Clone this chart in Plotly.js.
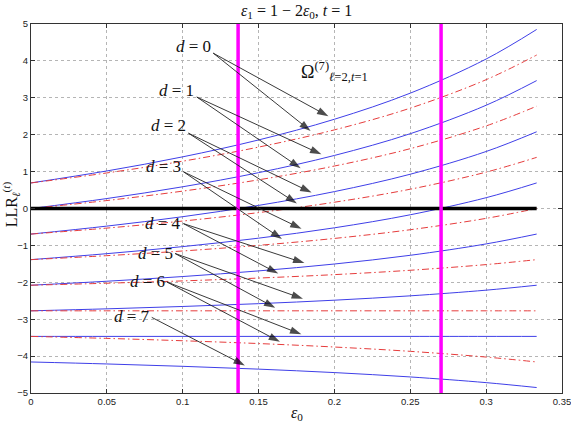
<!DOCTYPE html>
<html><head><meta charset="utf-8">
<script src="https://cdn.plot.ly/plotly-3.0.1.min.js"></script>
<style>html,body{margin:0;padding:0;background:#fff}#chart{width:571px;height:426px}</style>
</head><body><div id="chart"></div>
<script>
// ---- data ----
const eps0 = [0, 0.05, 0.1, 0.15, 0.2, 0.25, 0.3, 0.3333];
// blue solid curves (d = 0..7)
const blueD0 = [0.693, 1.018, 1.400, 1.858, 2.419, 3.126, 4.051, 4.852];
const blueD1 = [0.000, 0.270, 0.589, 0.971, 1.438, 2.027, 2.798, 3.466];
const blueD2 = [-0.693, -0.477, -0.222, 0.084, 0.458, 0.929, 1.545, 2.079];
const blueD3 = [-1.386, -1.224, -1.033, -0.804, -0.523, -0.170, 0.293, 0.693];
const blueD4 = [-2.079, -1.971, -1.844, -1.691, -1.504, -1.268, -0.960, -0.693];
const blueD5 = [-2.773, -2.719, -2.655, -2.579, -2.485, -2.367, -2.213, -2.079];
const blueD6 = [-3.466, -3.466, -3.466, -3.466, -3.466, -3.466, -3.466, -3.466];
const blueD7 = [-4.159, -4.213, -4.277, -4.353, -4.447, -4.565, -4.719, -4.852];
// red dash-dot curves (d = 0..6)
const redD0 = [0.693, 0.964, 1.282, 1.664, 2.131, 2.720, 3.491, 4.159];
const redD1 = [0.000, 0.216, 0.471, 0.777, 1.151, 1.622, 2.238, 2.773];
const redD2 = [-0.693, -0.531, -0.340, -0.111, 0.170, 0.523, 0.986, 1.386];
const redD3 = [-1.386, -1.278, -1.151, -0.998, -0.811, -0.575, -0.267, 0.000];
const redD4 = [-2.079, -2.025, -1.962, -1.885, -1.792, -1.674, -1.520, -1.386];
const redD5 = [-2.773, -2.773, -2.773, -2.773, -2.773, -2.773, -2.773, -2.773];
const redD6 = [-3.466, -3.520, -3.584, -3.660, -3.754, -3.871, -4.026, -4.159];
// vertical magenta markers and zero reference
const magentaX = [0.1365, 0.2703];
const zeroLineX = [0, 0.3333];
const zeroLineY = [0, 0];
const dLabels = ['<i>d</i> = 0','<i>d</i> = 1','<i>d</i> = 2','<i>d</i> = 3','<i>d</i> = 4','<i>d</i> = 5','<i>d</i> = 6','<i>d</i> = 7'];
const xTicks = [0, 0.05, 0.1, 0.15, 0.2, 0.25, 0.3, 0.35];
const xTickText = ['0', '0.05', '0.1', '0.15', '0.2', '0.25', '0.3', '0.35'];
const yTicks = [-5, -4, -3, -2, -1, 0, 1, 2, 3, 4, 5];
const yTickText = ['−5', '−4', '−3', '−2', '−1', '0', '1', '2', '3', '4', '5'];

// ---- annotation layout (label positions, arrow tails and heads) ----
const labelPos = [[0.1069, 4.38], [0.0957, 3.21], [0.0907, 2.24], [0.0874, 1.15], [0.0871, -0.40], [0.0821, -1.21], [0.0765, -1.99], [0.0663, -2.93]];
const tailPos = [[0.1201, 4.21], [0.1093, 3.02], [0.1038, 2.04], [0.1005, 0.995], [0.1005, -0.41], [0.0950, -1.22], [0.0895, -1.99], [0.0796, -2.95]];
const headPos = [
  [[0.1995, 2.42], [0.1874, 2.00]],
  [[0.1950, 1.40], [0.1810, 1.00]],
  [[0.1885, 0.36], [0.1786, 0.05]],
  [[0.1819, -0.62], [0.1687, -0.92]],
  [[0.1840, -1.53], [0.1665, -1.84]],
  [[0.1830, -2.50], [0.1645, -2.77]],
  [[0.1819, -3.466], [0.1676, -3.69]],
  [[0.1445, -4.33]]
];

// ---- traces ----
const blueList = [blueD0, blueD1, blueD2, blueD3, blueD4, blueD5, blueD6, blueD7];
const redList = [redD0, redD1, redD2, redD3, redD4, redD5, redD6];
const traces = [];
blueList.forEach(v => traces.push({x: eps0, y: v, mode: 'lines', line: {color: '#3f3fe8', width: 1, shape: 'spline'}, hoverinfo: 'skip'}));
redList.forEach(v => traces.push({x: eps0, y: v, mode: 'lines', line: {color: '#e63c3c', width: 1, dash: '7px,3px,1.5px,3px', shape: 'spline'}, hoverinfo: 'skip'}));
traces.push({x: zeroLineX, y: zeroLineY, mode: 'lines', line: {color: '#000', width: 3.5}, hoverinfo: 'skip'});
magentaX.forEach(v => traces.push({x: [v, v], y: [-5, 5], mode: 'lines', line: {color: '#ff00ff', width: 3.5}, hoverinfo: 'skip'}));
// arrows: line from label to curve, with an arrowhead marker at the curve end
headPos.forEach((heads, i) => {
  heads.forEach(h => {
    traces.push({x: [tailPos[i][0], h[0]], y: [tailPos[i][1], h[1]], mode: 'lines+markers',
      line: {color: '#222', width: 0.9},
      marker: {symbol: 'arrow', size: [0, 12], angleref: 'previous', standoff: 6, color: '#000', line: {width: 0}},
      hoverinfo: 'skip'});
  });
});

const serif = 'Liberation Serif, DejaVu Serif, serif';
const sans = 'Liberation Sans, Arial, sans-serif';
const annotations = [];
dLabels.forEach((t, i) => {
  annotations.push({x: labelPos[i][0], y: labelPos[i][1], xref: 'x', yref: 'y', text: t, showarrow: false,
    font: {family: serif, size: 17, color: '#111'}});
});
annotations.push({x: 0.1765, y: 3.70, xref: 'x', yref: 'y', text: 'Ω<sup>(7)</sup><sub><i>ℓ</i>=2,<i>t</i>=1</sub>', showarrow: false,
  font: {family: serif, size: 18, color: '#111'}, xanchor: 'left'});
annotations.push({x: -0.038, y: 0.5, xref: 'paper', yref: 'paper', yshift: 4, text: 'LLR<sub><i>ℓ</i></sub><sup>(<i>t</i>)</sup>', showarrow: false,
  textangle: -90, font: {family: serif, size: 16, color: '#111'}, xanchor: 'center', yanchor: 'middle'});
annotations.push({x: 0.5, y: 1.0, xref: 'paper', yref: 'paper', yshift: 13, text: '<i>ε</i><sub>1</sub> = 1 − 2<i>ε</i><sub>0</sub>, <i>t</i> = 1', showarrow: false,
  font: {family: serif, size: 16, color: '#111'}, xanchor: 'center', yanchor: 'middle'});
annotations.push({x: 0.5, y: 0, xref: 'paper', yref: 'paper', yshift: -9, text: '<i>ε</i><sub>0</sub>', showarrow: false,
  font: {family: serif, size: 16, color: '#111'}, xanchor: 'center', yanchor: 'top'});

const axisCommon = {ticks: 'inside', ticklen: 4, tickcolor: '#333', showline: true, linecolor: '#333', linewidth: 1, mirror: 'ticks',
  showgrid: true, gridcolor: '#b5b5b5', griddash: 'dot', gridwidth: 1, zeroline: false,
  tickfont: {family: sans, size: 9.5, color: '#222'}};
const layout = {
  width: 571, height: 426,
  margin: {l: 31, r: 9, t: 24, b: 33},
  paper_bgcolor: '#fff', plot_bgcolor: '#fff',
  showlegend: false,
  xaxis: Object.assign({}, axisCommon, {range: [0, 0.350001], tickmode: 'array', tickvals: xTicks, ticktext: xTickText, ticklabeloverflow: 'allow'}),
  yaxis: Object.assign({}, axisCommon, {range: [-5, 5], tickmode: 'array', tickvals: yTicks, ticktext: yTickText}),
  annotations: annotations
};
Plotly.newPlot('chart', traces, layout, {displayModeBar: false, staticPlot: true});
</script>
</body></html>
